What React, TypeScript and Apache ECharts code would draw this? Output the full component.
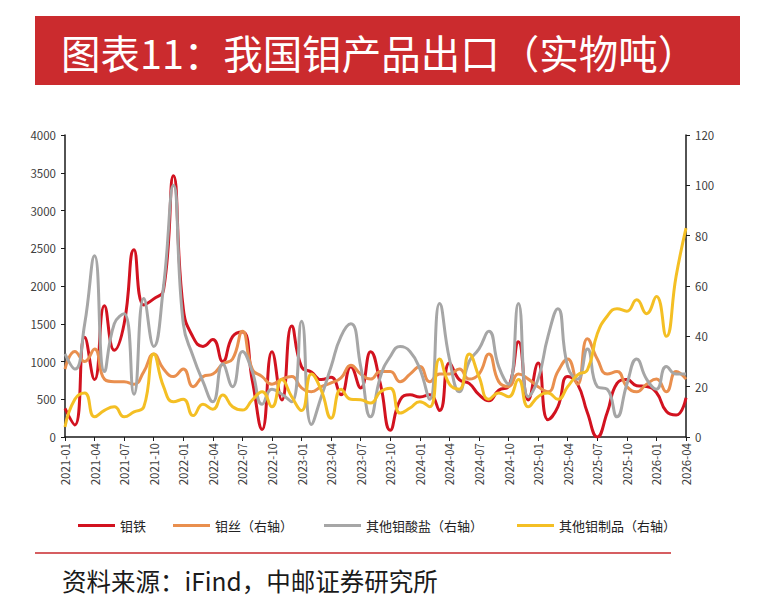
import { useEffect, useRef } from 'react'
import * as echarts from 'echarts'

const FONT = '"Noto Sans CJK SC", "Liberation Sans", sans-serif'

// 2021-01 .. 2026-04
const months: string[] = []
for (let y = 2021; y <= 2026; y++) {
  for (let m = 1; m <= 12; m++) {
    if (y === 2026 && m > 4) break
    months.push(`${y}-${String(m).padStart(2, '0')}`)
  }
}

// 钼铁 (左轴, 吨)
const moIron = [
  380, 160, 1320, 760, 1740, 1150, 1500, 2480, 1750, 1830, 1950, 3460,
  1700, 1320, 1200, 1290, 1000, 1330, 1390, 750, 100, 1130, 490, 1470,
  930, 860, 760, 790, 560, 930, 650, 1130, 700, 90, 490, 560,
  530, 560, 350, 980, 760, 710, 560, 480, 620, 670, 1260, 490,
  980, 230, 400, 800, 700, 320, 0, 320, 710, 760, 680, 670,
  590, 340, 290, 520,
]

// 钼丝 (右轴)
const moWire = [
  27, 34, 30, 35, 23, 22, 22, 21, 26, 33, 27, 24,
  27, 20, 24, 25, 29, 31, 42, 27, 24, 21, 23, 24,
  19.5, 18, 20, 21.5, 23.5, 28.5, 25, 23, 26, 26, 22, 25,
  28, 22, 25, 25, 27, 23, 25, 33, 22, 20, 25, 23,
  20, 18, 26, 31, 21, 39, 31, 25, 26, 20, 18, 21,
  23, 18, 26, 23,
]

// 其他钼酸盐 (右轴)
const molybdate = [
  33, 27, 45, 72, 26, 45, 49, 17, 55, 36, 60, 100,
  45, 32, 22, 14, 29, 20, 34, 26, 13, 19, 17, 14,
  46, 5, 16, 28, 40, 45, 28, 8, 24, 32, 36, 34,
  27, 15, 53, 31, 18, 30, 35, 42, 28, 21, 53, 16,
  23, 40, 51, 28, 23, 35, 20, 19, 8, 21, 31, 23,
  19, 28, 25, 25,
]

// 其他钼制品 (右轴)
const moProducts = [
  4, 15, 17.5, 8, 10.6, 12, 8, 10, 12, 33, 20, 14,
  15, 8.5, 13, 11, 16.7, 12, 10.7, 14.7, 18, 12, 22.8, 16,
  10.5, 25, 18.5, 7.5, 19, 15, 14.8, 13.5, 18, 19.4, 9.5, 11.5,
  14, 12, 31, 21, 19, 33, 24, 15, 17.5, 16, 22.8, 12,
  16, 17.5, 15, 20, 24.7, 26.7, 41, 48, 51, 50, 54.5, 49,
  55.8, 40, 64, 83,
]

const seriesNames = ['钼铁', '钼丝（右轴）', '其他钼酸盐（右轴）', '其他钼制品（右轴）']
const seriesColors = ['#d2121f', '#e98f4e', '#a6a6a6', '#f4bf24']
const legendLeft = [73, 168, 319, 512]

export default function App() {
  const ref = useRef<HTMLDivElement>(null)

  useEffect(() => {
    document.body.style.margin = '0'
    if (!ref.current) return
    const chart = echarts.init(ref.current, undefined, { renderer: 'svg' })

    const axisLabel = { color: '#404040', fontSize: 11.5, fontFamily: FONT }
    const axisLine = { show: true, lineStyle: { color: '#1a1a1a', width: 1.5 } }

    chart.setOption({
      animation: false,
      backgroundColor: '#ffffff',
      grid: { left: 65, right: 82, top: 135, bottom: 160 },
      legend: seriesNames.map((name, i) => ({
        data: [name],
        left: legendLeft[i],
        top: 514,
        icon: 'rect',
        itemWidth: 37,
        itemHeight: 3,
        textStyle: { fontSize: 13, color: '#222', fontFamily: FONT },
      })),
      xAxis: {
        type: 'category',
        data: months,
        boundaryGap: false,
        axisLine,
        axisTick: { show: true, interval: 2, length: 4, lineStyle: { color: '#1a1a1a' } },
        axisLabel: { ...axisLabel, interval: 2, rotate: 90, margin: 6 },
      },
      yAxis: [
        {
          type: 'value',
          min: 0,
          max: 4000,
          interval: 500,
          axisLine,
          axisTick: { show: true, length: 4, lineStyle: { color: '#1a1a1a' } },
          splitLine: { show: false },
          axisLabel: { ...axisLabel, margin: 9, formatter: (v: number) => String(v) },
        },
        {
          type: 'value',
          min: 0,
          max: 120,
          interval: 20,
          position: 'right',
          axisLine,
          axisTick: { show: true, length: 4, lineStyle: { color: '#1a1a1a' } },
          splitLine: { show: false },
          axisLabel: { ...axisLabel, margin: 9, formatter: (v: number) => String(v) },
        },
      ],
      series: [moIron, moWire, molybdate, moProducts].map((d, i) => ({
        name: seriesNames[i],
        type: 'line',
        yAxisIndex: i === 0 ? 0 : 1,
        data: d,
        smooth: 0.5,
        symbol: 'none',
        color: seriesColors[i],
        lineStyle: { color: seriesColors[i], width: 3 },
      })),
      graphic: [
        {
          type: 'rect',
          shape: { x: 35, y: 16, width: 705, height: 69 },
          style: { fill: '#cb2b2e' },
        },
        {
          type: 'text',
          x: 61,
          y: 51,
          style: {
            text: '图表11：我国钼产品出口（实物吨）',
            fill: '#ffffff',
            fontSize: 39.5,
            fontFamily: FONT,
            verticalAlign: 'middle',
          },
        },
        {
          type: 'line',
          shape: { x1: 35, y1: 553, x2: 671, y2: 553 },
          style: { stroke: '#c8282c', lineWidth: 1.5 },
        },
        {
          type: 'text',
          x: 62,
          y: 580,
          style: {
            text: '资料来源：iFind，中邮证券研究所',
            fill: '#1a1a1a',
            fontSize: 24.5,
            fontFamily: FONT,
            verticalAlign: 'middle',
          },
        },
      ],
    })

    return () => chart.dispose()
  }, [])

  return <div ref={ref} style={{ width: 768, height: 597 }} />
}
